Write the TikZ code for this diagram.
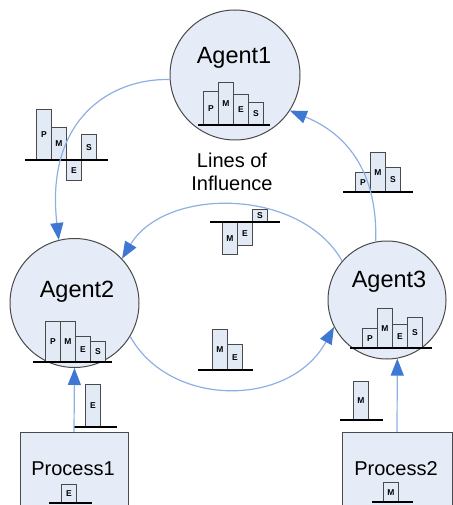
\documentclass[tikz,border=0pt]{standalone}
\usepackage{fontspec}
\setmainfont{Liberation Sans}
\usetikzlibrary{arrows.meta}
\definecolor{linkblue}{HTML}{8DB0E3}
\definecolor{tipblue}{HTML}{3F78D2}
\definecolor{agentfill}{HTML}{E6ECF7}
\definecolor{barfill}{HTML}{E2EAF6}
\definecolor{edgegrey}{HTML}{4A4A4A}

\begin{document}
\begin{tikzpicture}[x=1pt,y=-1pt,
    agent/.style={circle,draw=edgegrey,fill=agentfill,line width=1pt,inner sep=0pt},
    proc/.style={rectangle,draw=edgegrey,fill=agentfill,line width=1pt,anchor=north},
    bigtxt/.style={font=\fontsize{23.5}{26}\selectfont},
    midtxt/.style={font=\fontsize{20}{23}\selectfont,align=center},
    pbar/.style={rectangle,draw=edgegrey,fill=barfill,line width=0.8pt,inner sep=0pt,
      minimum width=15,font=\fontsize{8.5}{9}\selectfont\bfseries,anchor=south west},
    nbar/.style={pbar,anchor=north west},
    baseln/.style={line width=2.4pt,black},
    link/.style={draw=linkblue,line width=1.2pt,-{Triangle[length=17pt,width=13pt,color=tipblue]}}]
  \useasboundingbox (0,0) rectangle (452,505);

  % agents and processes
  \node[agent,minimum size=130] (agent1) at (235,75) {};
  \node[agent,minimum size=129] (agent2) at (74.5,303) {};
  \node[agent,minimum size=118] (agent3) at (387,300) {};
  \node[proc,minimum width=108,minimum height=80] (proc1) at (74,432) {};
  \node[proc,minimum width=110,minimum height=80] (proc2) at (397,432) {};

  \node[bigtxt] (agent1txt) at (234,58) {Agent1};
  \node[bigtxt] (agent2txt) at (77,292) {Agent2};
  \node[bigtxt] (agent3txt) at (389,282) {Agent3};
  \node[midtxt] (proc1txt) at (73,469) {Process1};
  \node[midtxt] (proc2txt) at (396,469) {Process2};
  \node[midtxt] (influence) at (232,172) {Lines of\\Influence};

  % Agent1 chart
  \node[pbar,minimum height=33] (a1p) at (203,125) {P};
  \node[pbar,minimum height=42] (a1m) at (218,125) {M};
  \node[pbar,minimum height=30] (a1e) at (233,125) {E};
  \node[pbar,minimum height=22] (a1s) at (248,125) {S};
  \draw[baseln] (198,125) -- (270,125);

  % Agent2 chart
  \node[pbar,minimum height=40] (a2p) at (45,362) {P};
  \node[pbar,minimum height=40] (a2m) at (60,362) {M};
  \node[pbar,minimum height=25] (a2e) at (75,362) {E};
  \node[pbar,minimum height=20] (a2s) at (90,362) {S};
  \draw[baseln] (33,362) -- (112,362);

  % Agent3 chart
  \node[pbar,minimum height=19] (a3p) at (362,348) {P};
  \node[pbar,minimum height=39] (a3m) at (377,348) {M};
  \node[pbar,minimum height=23] (a3e) at (392,348) {E};
  \node[pbar,minimum height=30] (a3s) at (407,348) {S};
  \draw[baseln] (350,348) -- (432,348);

  % Agent1 -> Agent2 chart
  \node[pbar,minimum height=50] (l12p) at (36,160) {P};
  \node[pbar,minimum height=32] (l12m) at (51,160) {M};
  \node[nbar,minimum height=20] (l12e) at (66,160) {E};
  \node[pbar,minimum height=25] (l12s) at (81,160) {S};
  \draw[baseln] (25,160) -- (108,160);

  % Agent3 -> Agent1 chart
  \node[pbar,minimum height=19] (l31p) at (355,192) {P};
  \node[pbar,minimum height=39] (l31m) at (370,192) {M};
  \node[pbar,minimum height=24] (l31s) at (385,192) {S};
  \draw[baseln] (343,192) -- (413,192);

  % Agent3 -> Agent2 chart
  \node[nbar,minimum height=32] (l32m) at (222,222) {M};
  \node[nbar,minimum height=23] (l32e) at (237,222) {E};
  \node[pbar,minimum height=12] (l32s) at (252,222) {S};
  \draw[baseln] (210,222) -- (280,222);

  % Agent2 -> Agent3 chart
  \node[pbar,minimum height=40] (l23m) at (212,370) {M};
  \node[pbar,minimum height=25] (l23e) at (227,370) {E};
  \draw[baseln] (198,370) -- (253,370);

  % process charts
  \node[pbar,minimum height=42] (p1e) at (85,427) {E};
  \draw[baseln] (74,427) -- (117,427);
  \node[pbar,minimum height=38] (p2m) at (353,420) {M};
  \draw[baseln] (340,420) -- (383,420);
  \node[pbar,minimum height=18] (p1in) at (61,503) {E};
  \draw[baseln] (49,503) -- (92,503);
  \node[pbar,minimum height=19] (p2in) at (383,502) {M};
  \draw[baseln] (372,502) -- (413,502);

  % lines of influence
  \draw[link] (agent1.184) .. controls (110,78) and (45,120) .. (agent2.104);
  \draw[link] (agent3.101) .. controls (378,170) and (345,133) .. (agent1.327);
  \draw[link] (agent3.139) .. controls (300,187) and (165,187) .. (agent2.43);
  \draw[link] (agent2.329) .. controls (170,408) and (290,408) .. (agent3.207);
  \draw[link] (proc1.north) -- (agent2.south);
  \draw[link] (proc2.north) -- (agent3.280);
\end{tikzpicture}
\end{document}
